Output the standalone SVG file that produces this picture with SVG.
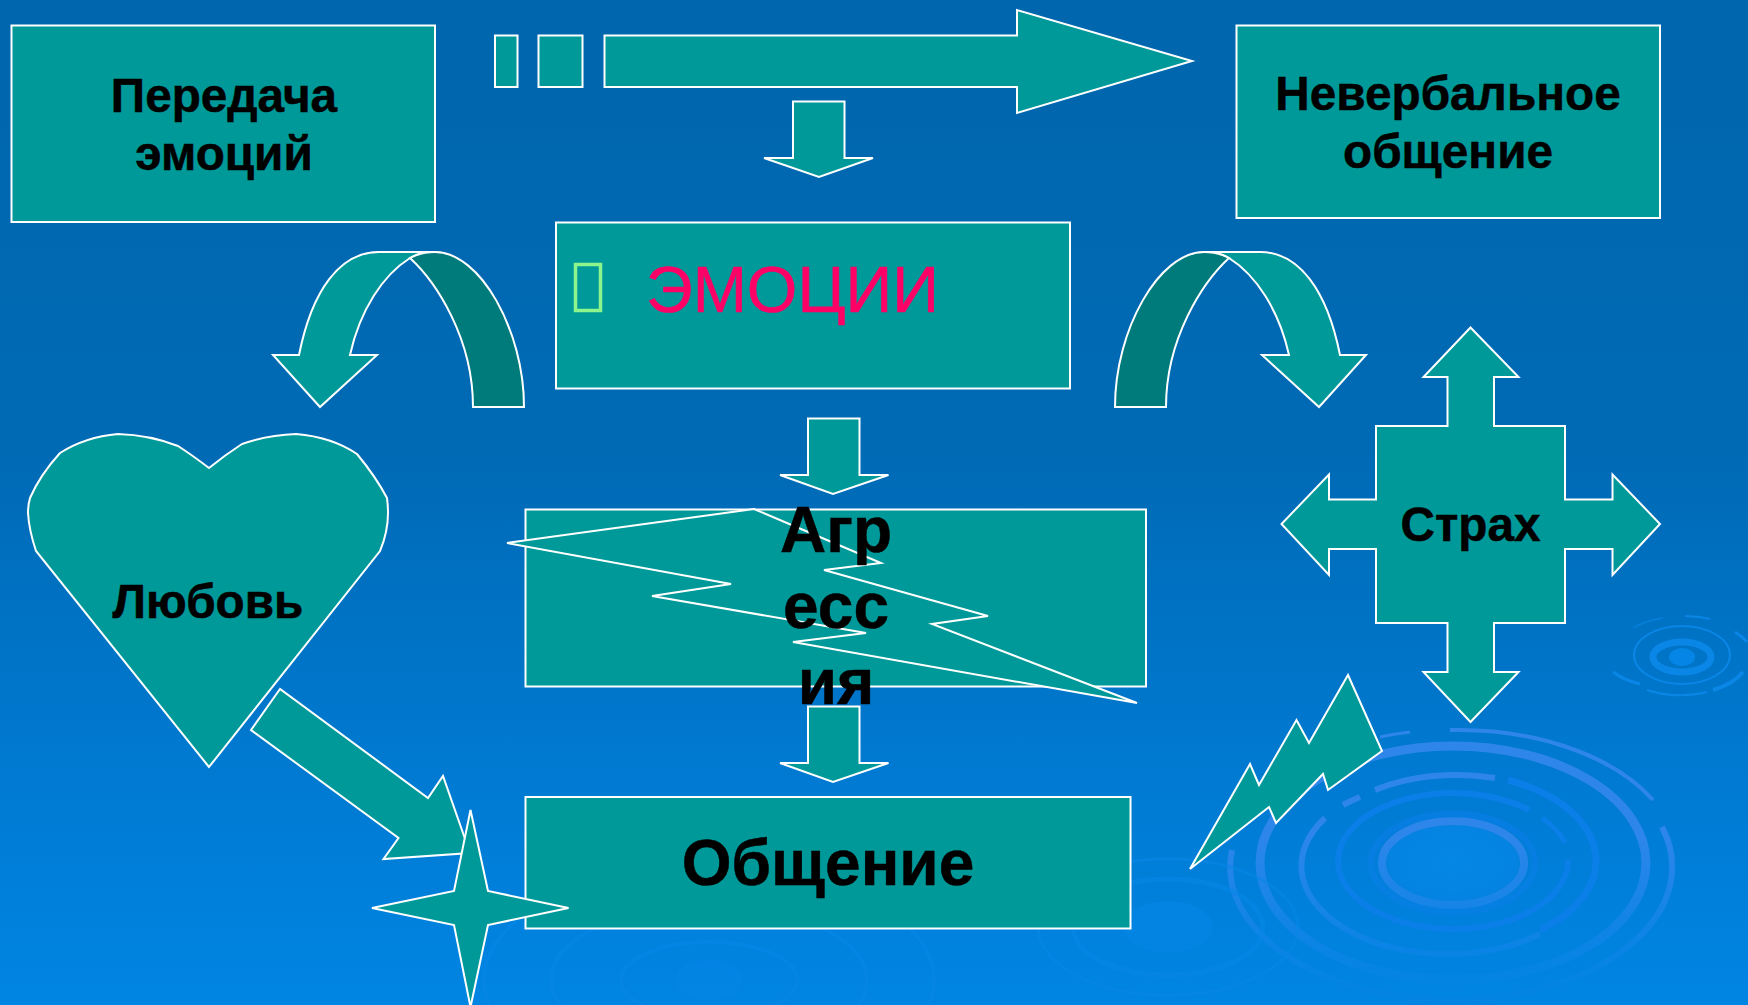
<svg xmlns="http://www.w3.org/2000/svg" width="1748" height="1005" viewBox="0 0 1748 1005">
<style>
.s{fill:#009999;stroke:#fff;stroke-width:2;stroke-linejoin:miter}
.d{fill:#007b7b;stroke:#fff;stroke-width:2}
.t{font-family:"Liberation Sans",Arial,sans-serif;font-weight:700;fill:#000;stroke:#000;stroke-width:.5;text-anchor:middle}
.a{fill:none;stroke-linecap:butt}
.r{stroke:#2f86ea}
.q{stroke:#0a7fe8}
.f{stroke:#0787e8;opacity:.55}
.g{stroke:url(#fade)}
.m{stroke:#0a86e6}
</style>
<defs>
<linearGradient id="bg" x1="0" y1="0" x2="0" y2="1">
<stop offset="0" stop-color="#0066ad"/><stop offset="0.45" stop-color="#006ab5"/><stop offset="0.75" stop-color="#0079d0"/><stop offset="1" stop-color="#0085e3"/>
</linearGradient>
<linearGradient id="fade" gradientUnits="userSpaceOnUse" x1="0" y1="730" x2="0" y2="985">
<stop offset="0" stop-color="#2f86ea"/><stop offset="0.4" stop-color="#2f86ea"/><stop offset="0.85" stop-color="#0a84e6"/><stop offset="1" stop-color="#0384e2"/>
</linearGradient>
<radialGradient id="glow"><stop offset="0" stop-color="#0587e6"/><stop offset="0.8" stop-color="#0483e2"/><stop offset="1" stop-color="#0483e2" stop-opacity="0"/></radialGradient>
</defs>
<rect id="background" width="1748" height="1005" fill="url(#bg)"/>
<g id="ripples" class="a">
<ellipse cx="1453" cy="863" rx="78" ry="46" fill="url(#glow)"/>
<ellipse class="a g" cx="1453" cy="863" rx="71" ry="42" stroke-width="8"/>
<ellipse class="a q" cx="1453" cy="863" rx="82" ry="49" stroke-width="7" opacity=".6"/>
<path class="a q" stroke-width="6" d="M1568,860A115,68 0 1 1 1529,810"/>
<path class="a q" stroke-width="5" d="M1542,818A115,68 0 0 1 1565,843"/>
<path class="a r" stroke-width="6" d="M1375,790A146,88 0 0 1 1495,778"/>
<path class="a q" stroke-width="7" d="M1508,780A146,88 0 0 1 1540,930"/>
<path class="a g" stroke-width="6" d="M1540,934A146,88 0 0 1 1325,818"/>
<path class="a r" stroke-width="6" d="M1343,805A146,88 0 0 1 1360,797"/>
<ellipse class="a g" cx="1453" cy="863" rx="193" ry="117" stroke-width="9"/>
<path class="a g" stroke-width="4" d="M1450,730A221,133 0 0 1 1653,800"/>
<path class="a g" stroke-width="6" d="M1662,827A221,133 0 1 1 1232,850"/>
<path class="a r" stroke-width="3" d="M1380,737A221,133 0 0 1 1410,732"/>
<ellipse cx="1682" cy="657" rx="13" ry="9" fill="#0585e5"/>
<ellipse class="a m" cx="1682" cy="657" rx="29" ry="15" stroke-width="7"/>
<ellipse class="a m" cx="1682" cy="655" rx="48" ry="29" stroke-width="2"/>
<path class="a m" stroke-width="3" d="M1613,672A66,38 0 0 0 1640,684"/>
<path class="a m" stroke-width="2" d="M1647,690A66,38 0 0 0 1707,692"/>
<path class="a m" stroke-width="4" d="M1713,690A66,38 0 0 0 1743,672"/>
<path class="a m" stroke-width="3" d="M1735,632A66,38 0 0 1 1747,642"/>
<path class="a m" stroke-width="2" d="M1685,616A66,38 0 0 1 1710,619"/>
<path class="a m" stroke-width="2" opacity=".6" d="M1633,628A66,38 0 0 1 1663,618"/>
<ellipse cx="1168" cy="927" rx="45" ry="26" fill="#0586e6" opacity=".6"/>
<ellipse class="a f" cx="1168" cy="927" rx="95" ry="48" stroke-width="5"/>
<ellipse class="a f" cx="1168" cy="927" rx="130" ry="68" stroke-width="3"/>
<ellipse cx="709" cy="980" rx="33" ry="20" fill="#0586e6" opacity=".6"/>
<ellipse class="a f" cx="709" cy="980" rx="88" ry="38" stroke-width="4"/>
<ellipse class="a f" cx="709" cy="980" rx="158" ry="75" stroke-width="4"/>
<ellipse class="a f" cx="709" cy="980" rx="225" ry="115" stroke-width="4"/>
</g>
<g id="connectors">
<polygon class="s" points="604.5,35.5 1017,35.5 1017,10 1192,61 1017,113 1017,87 604.5,87"/>
<polygon class="s" points="793,101.500 844.5,101.500 844.5,158 873,158 819,177 764,158 793,158"/>
<polygon class="s" points="808,418.500 859.5,418.500 859.5,475 888.5,475 833,494 780,475 808,475"/>
<polygon class="s" points="808,706.500 859.5,706.500 859.5,763 888.5,763 833,782 780,763 808,763"/>
<polygon class="s" points="280,689 251,730 398.5,838 383.5,859 470,853 443,776 428,798"/>
<g id="curve-left">
<path class="s" d="M299,355C312,290 340,252 379,252L435,252C425,252 417,254 410,258C383,275 360,310 350,355L377,355L320,407L273,355Z"/>
<path class="d" d="M524,407C524,330 480,252 435,252C425,252 417,254 410,258C436,282 473,338 473,407Z"/>
</g>
<g id="curve-right">
<path class="s" d="M1340,355C1327,290 1299,252 1260,252L1204,252C1214,252 1222,254 1229,258C1256,275 1279,310 1289,355L1262,355L1319,407L1366,355Z"/>
<path class="d" d="M1115,407C1115,330 1159,252 1204,252C1214,252 1222,254 1229,258C1203,282 1166,338 1166,407Z"/>
</g>
</g>
<g id="node-peredacha">
<rect class="s" x="11.500" y="25.500" width="423.500" height="196.500"/>
<text class="t" x="224" y="112" font-size="47.700">Передача</text>
<text class="t" x="224" y="170" font-size="47.700">эмоций</text>
</g>
<g id="node-small-1"><rect class="s" x="495" y="35.500" width="22.500" height="51.500"/></g>
<g id="node-small-2"><rect class="s" x="538.500" y="35.500" width="44" height="51.500"/></g>
<g id="node-neverbal">
<rect class="s" x="1236.500" y="25.500" width="423.500" height="192.500"/>
<text class="t" x="1448" y="110" font-size="47.700">Невербальное</text>
<text class="t" x="1448" y="168" font-size="47.700">общение</text>
</g>
<g id="node-emotions">
<rect class="s" x="556" y="222.500" width="514" height="166"/>
<rect x="575.500" y="264.500" width="25" height="46" fill="none" stroke="#8cf58c" stroke-width="3.500"/>
<text x="646" y="312" font-size="65" fill="#ff0066" stroke="#ff0066" stroke-width=".6" font-family="'Liberation Sans',Arial,sans-serif">ЭМОЦИИ</text>
</g>
<g id="node-love">
<path class="s" d="M209,767L36,551Q29,530 28,513Q28,505 30,498Q40,475 60,453Q85,437 118,434Q150,435 178,446Q192,455 209,468Q225,455 242,444Q268,435 296,434Q332,437 357,454Q376,477 387,498Q388,505 388,513Q388,532 380,551Z"/>
<text class="t" x="208" y="618" font-size="47.700">Любовь</text>
</g>
<g id="node-aggression">
<rect class="s" x="525.500" y="509.500" width="620.500" height="177"/>
<polygon class="s" points="754,509 881,563 824,570 988,616 932,624 1137,703 793,642 866,633 652,596 731,584 507,543"/>
<text class="t" x="836" y="552" font-size="64">Агр</text>
<text class="t" x="836" y="628" font-size="64">есс</text>
<text class="t" x="836" y="704" font-size="64">ия</text>
</g>
<g id="node-obshchenie">
<rect class="s" x="525.500" y="797" width="605" height="131.500"/>
<text class="t" x="828" y="885" font-size="64">Общение</text>
</g>
<g id="node-star">
<polygon class="s" points="470.500,810 488,891 568.500,908 488,925 470.500,1007 454,925 372,908 454,891"/>
</g>
<g id="node-fear">
<polygon class="s" points="1470.5,327.500 1518.500,377 1494,377 1494,426 1565,426 1565,499.5 1612.5,499.5 1612.5,474.500 1660,524 1612.5,575 1612.5,549 1565,549 1565,623 1494,623 1494,672 1518.500,672 1470.5,722 1423.500,672 1447.5,672 1447.5,623 1376,623 1376,549 1329,549 1329,575 1281.5,524 1329,474.500 1329,499.5 1376,499.5 1376,426 1447.5,426 1447.5,377 1423.500,377"/>
<text class="t" x="1470.5" y="541" font-size="47.700">Страх</text>
</g>
<g id="node-lightning">
<polygon class="s" points="1348,675 1382,751 1328,790 1323,774 1276,823 1269,807 1190,869 1250,764 1259,785 1296.5,720 1309,743"/>
</g>
</svg>
